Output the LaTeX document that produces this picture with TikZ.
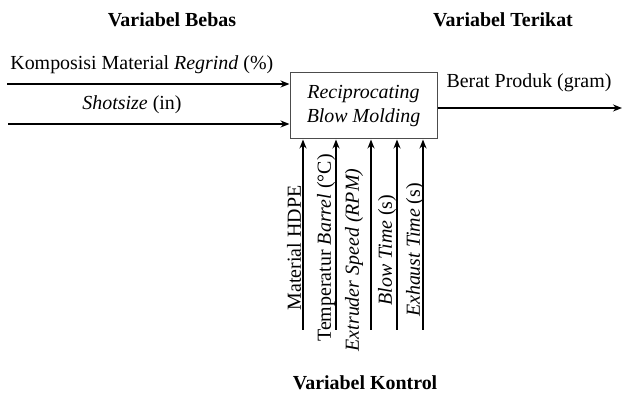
\documentclass[tikz,border=0pt]{standalone}
\usepackage{fontspec}
\setmainfont{Liberation Serif}
\usetikzlibrary{arrows.meta}

\newcommand{\ctrlbottom}{330}

\tikzset{
	flow/.style={-{Stealth[length=4.5pt,width=3.5pt]}, line width=0.9pt},
	heading/.style={font=\bfseries\fontsize{10}{12}\selectfont},
	lbl/.style={font=\fontsize{10}{12}\selectfont, inner sep=0pt}
}

\begin{document}
\begin{tikzpicture}[x=0.5bp, y=-0.5bp]

\useasboundingbox (0,0) rectangle (625,394);

% Headings
\node[heading] (hBebas) at (172,20) {Variabel Bebas};
\node[heading] (hTerikat) at (503,20) {Variabel Terikat};
\node[heading] (hKontrol) at (365,383) {Variabel Kontrol};

% Process
\node[draw=black!70, line width=0.5pt,
	minimum width=147*0.5bp, minimum height=66*0.5bp,
	align=center, font=\itshape\fontsize{10}{12}\selectfont
] (rbm) at (363.5,106) {Reciprocating\\Blow Molding};

% Inputs
\coordinate (in1) at (7,84);
\coordinate (in2) at (8,124);
\draw[flow] (in1) -- (in1 -| rbm.west);
\draw[flow] (in2) -- (in2 -| rbm.west);
\node[lbl, anchor=west] (lIn1) at (10,65) {Komposisi Material \textit{Regrind} (\%)};
\node[lbl] (lIn2) at (132,105) {\textit{Shotsize} (in)};

% Output
\coordinate (out) at (622,108);
\draw[flow] (rbm.east |- out) -- (out);
\node[lbl] (lOut) at (529,83) {Berat Produk (gram)};

% Control variables
\foreach \i/\x/\lx/\ly/\txt in {
	1/303/294/248/{Material HDPE},
	2/336/326/248/{Temperatur \textit{Barrel} (°C)},
	3/371/354/260/{\textit{Extruder Speed (RPM)}},
	4/397/387/250/{\textit{Blow Time} (s)},
	5/423/415/250/{\textit{Exhaust Time} (s)}}
{
	\coordinate (ctrl-\i) at (\x,\ctrlbottom);
	\draw[flow] (ctrl-\i) -- (ctrl-\i |- rbm.south);
	\node[lbl, rotate=90] (lCtrl-\i) at (\lx,\ly) {\txt};
}

\end{tikzpicture}
\end{document}
